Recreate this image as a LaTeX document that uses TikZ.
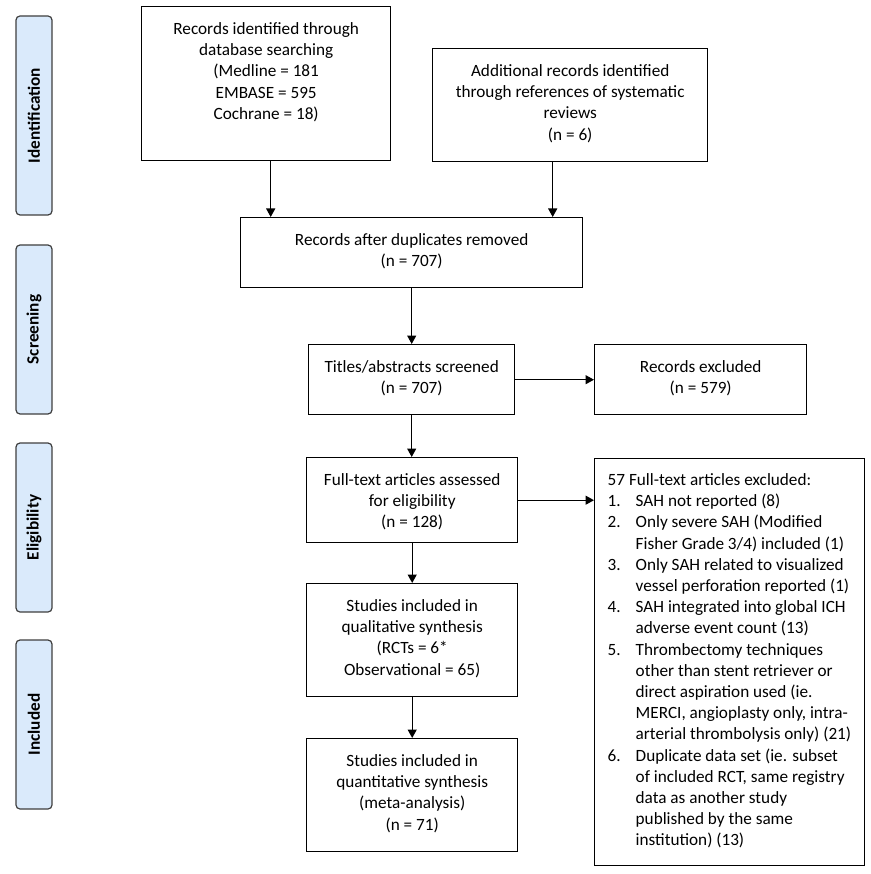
\documentclass[tikz,border=0pt]{standalone}
\usepackage{fontspec}
\setmainfont{Carlito}
\usetikzlibrary{arrows.meta,positioning}
\definecolor{phasefill}{HTML}{DAEAFB}
\definecolor{phaseline}{HTML}{3F3F3F}
% text of a flow box: width, height, top gap, lines
\newcommand{\boxlines}[4]{\begin{minipage}[c][#2][t]{#1}\centering\vspace*{#3}\strut#4\end{minipage}}
\newcommand{\exitem}[2]{\hangindent=28pt\hangafter=1\makebox[28pt][l]{#1}#2\par}

\begin{document}
\begin{tikzpicture}[
  x=1pt,y=-1pt,
  every node/.style={font=\fontsize{17.2}{21.2}\selectfont},
  phase/.style={draw=phaseline,fill=phasefill,line width=1.2pt,rounded corners=4pt,
    rotate=90,minimum height=36pt,inner sep=0pt,font=\fontsize{17.2}{21.2}\selectfont\bfseries},
  stage/.style={draw,line width=1.4pt,inner sep=0pt,anchor=north west},
  arr/.style={-{Triangle[length=8.5pt,width=9pt]},line width=1.3pt}
]
\useasboundingbox (0,0) rectangle (870,874);

% phases
\node[phase,minimum width=199pt] (idph) at (34,115.5) {Identification};
\node[phase,minimum width=169pt] (scph) at (34,329.5) {Screening};
\node[phase,minimum width=169pt] (elph) at (34,527.5) {Eligibility};
\node[phase,minimum width=169pt] (inph) at (34,724.5) {Included};

% flow boxes
\node[stage] (db) at (141,6) {\boxlines{249pt}{154pt}{13pt}{Records identified through\\database searching\\(Medline = 181\\EMBASE = 595\\Cochrane = 18)}};
\node[stage] (add) at (432,48) {\boxlines{275pt}{113pt}{13pt}{Additional records identified\\through references of systematic\\reviews\\(n = 6)}};
\node[stage] (dup) at (240,217) {\boxlines{342pt}{70pt}{13pt}{Records after duplicates removed\\(n = 707)}};
\node[stage] (title) at (308,344) {\boxlines{206pt}{70pt}{13pt}{Titles/abstracts screened\\(n = 707)}};
\node[stage] (recex) at (594,344) {\boxlines{212pt}{70pt}{13pt}{Records excluded\\(n = 579)}};
\node[stage] (full) at (306,457) {\boxlines{211pt}{85pt}{13pt}{Full-text articles assessed\\for eligibility\\(n = 128)}};
\node[stage] (qual) at (306,583) {\boxlines{211pt}{113pt}{13pt}{Studies included in\\qualitative synthesis\\(RCTs = 6*\\Observational = 65)}};
\node[stage] (quant) at (306,738) {\boxlines{211pt}{113pt}{13pt}{Studies included in\\quantitative synthesis\\(meta-analysis)\\(n = 71)}};
\node[stage] (fullex) at (594,458) {\begin{minipage}[c][407pt][t]{270pt}\raggedright\leftskip=13pt
  \vspace*{12pt}\strut 57 Full-text articles excluded:\par
  \exitem{1.}{SAH not reported (8)}
  \exitem{2.}{Only severe SAH (Modified\newline Fisher Grade 3/4) included (1)}
  \exitem{3.}{Only SAH related to visualized\newline vessel perforation reported (1)}
  \exitem{4.}{SAH integrated into global ICH\newline adverse event count (13)}
  \exitem{5.}{Thrombectomy techniques\newline other than stent retriever or\newline direct aspiration used (ie.\newline MERCI, angioplasty only, intra-\newline arterial thrombolysis only) (21)}
  \exitem{6.}{Duplicate data set (ie. subset\newline of included RCT, same registry\newline data as another study\newline published by the same\newline institution) (13)}
\end{minipage}};

% connectors
\coordinate (dbout) at ([xshift=4.5pt]db.south);
\coordinate (addout) at ([xshift=-17.5pt]add.south);
\draw[arr] (dbout) -- (dbout |- dup.north);
\draw[arr] (addout) -- (addout |- dup.north);
\draw[arr] (dup) -- (title);
\draw[arr] (title) -- (recex);
\draw[arr] (title.south) -- (title.south |- full.north);
\draw[arr] (full.east) -- (full.east -| fullex.west);
\draw[arr] (full) -- (qual);
\draw[arr] (qual) -- (quant);
\end{tikzpicture}
\end{document}
